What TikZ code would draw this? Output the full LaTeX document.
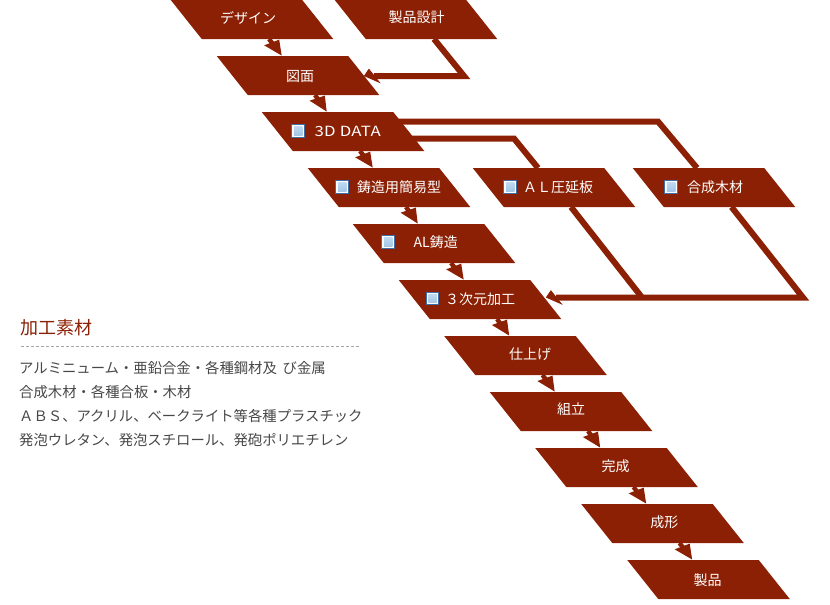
\documentclass[tikz,border=0pt]{standalone}
\usepackage{fontspec}
\setmainfont{Noto Sans CJK JP}
\newfontfamily\widefont[FakeStretch=1.2,LetterSpace=2]{Noto Sans CJK JP}
\usetikzlibrary{arrows.meta,calc,shapes.geometric}
\definecolor{stepred}{HTML}{8C2004}
\definecolor{icoblue}{HTML}{3F6DA6}
\definecolor{icolight}{HTML}{C4DDF2}
\definecolor{icomid}{HTML}{6FA6D6}
\definecolor{icolow}{HTML}{9CC3E4}
\tikzset{
  stepbox/.style={trapezium,trapezium left angle=128.5,trapezium right angle=51.5,
    text width=100.5pt,text height=19.5pt,text depth=19.5pt,inner sep=0pt,outer sep=0pt,fill=stepred},
  steptext/.style={inner sep=0pt,text=white,font=\fontsize{14}{14}\selectfont},
  sidetext/.style={inner sep=0pt,anchor=west,text=black!72,font=\fontsize{14.35}{14.35}\selectfont},
  icobox/.style={rectangle,draw=icoblue,line width=1pt,fill=white,minimum size=12.5pt,inner sep=0pt,
    path picture={\shade[top color=icolight,middle color=icomid,bottom color=icolow]
      ($(path picture bounding box.south west)+(2,-2)$) rectangle ($(path picture bounding box.north east)+(-2,2)$);}},
  smallarr/.style={draw=stepred,line width=4.5pt,-{Triangle[length=17pt,width=14pt,slant=0.3]}},
  bigarr/.style={draw=stepred,line width=6pt,miter limit=10,-{Triangle[length=11pt,width=14pt,slant=-0.8]}},
  bigline/.style={draw=stepred,line width=6pt,miter limit=10}
}
\begin{document}
\begin{tikzpicture}[x=1pt,y=-1pt]
  \useasboundingbox (0,0) rectangle (830,605);

  % 工程
  \node[stepbox] (nDesign) at (252,19.5) {};
  \node[stepbox] (nSeihin) at (416,19.5) {};
  \node[stepbox] (nZumen) at (298,75.5) {};
  \node[stepbox] (nData) at (343,131.5) {};
  \node[stepbox] (nKan) at (389,187.5) {};
  \node[stepbox] (nAtsu) at (554,187.5) {};
  \node[stepbox] (nWood) at (714,187.5) {};
  \node[stepbox] (nChu) at (434,243.5) {};
  \node[stepbox] (nKako) at (480,299.5) {};
  \node[stepbox] (nShiage) at (525.5,355.5) {};
  \node[stepbox] (nKumi) at (571,411.5) {};
  \node[stepbox] (nKansei) at (616.5,467.5) {};
  \node[stepbox] (nSeikei) at (662.5,523.5) {};
  \node[stepbox] (nLast) at (708.5,579.5) {};

  % 折れ線
  \coordinate (kSeihin) at (464,76);
  \coordinate (kWoodUp) at (658,121.5);
  \coordinate (kAtsuUp) at (514,138.5);
  \coordinate (kWoodDn) at (803,297.5);
  \coordinate (kAtsuDn) at (642,297.5);
  \draw[bigarr] ($(nSeihin.south)+(18,0)$) -- (kSeihin) -- ($(nZumen.east)+(0,0.5)$);
  \draw[bigline] ($(nData.east)+(-20,-10)$) -- (kWoodUp) -- ($(nWood.north)+(-17,0)$);
  \draw[bigline] ($(nData.east)+(-20,7)$) -- (kAtsuUp) -- ($(nAtsu.north)+(-16,0)$);
  \draw[bigarr] ($(nWood.south)+(17.5,0)$) -- (kWoodDn) -- ($(nKako.east)+(0,-2)$);
  \draw[bigline] ($(nAtsu.south)+(17,0)$) -- (kAtsuDn);

  % 矢印
  \draw[smallarr] ($(nDesign.south)+(17,0)$) -- ($(nZumen.north)+(-16,0)$);
  \draw[smallarr] ($(nZumen.south)+(17,0)$) -- ($(nData.north)+(-16,0)$);
  \draw[smallarr] ($(nData.south)+(17,0)$) -- ($(nKan.north)+(-16,0)$);
  \draw[smallarr] ($(nKan.south)+(17,0)$) -- ($(nChu.north)+(-16,0)$);
  \draw[smallarr] ($(nChu.south)+(17,0)$) -- ($(nKako.north)+(-16,0)$);
  \draw[smallarr] ($(nKako.south)+(17,0)$) -- ($(nShiage.north)+(-16,0)$);
  \draw[smallarr] ($(nShiage.south)+(17,0)$) -- ($(nKumi.north)+(-16,0)$);
  \draw[smallarr] ($(nKumi.south)+(17,0)$) -- ($(nKansei.north)+(-16,0)$);
  \draw[smallarr] ($(nKansei.south)+(17,0)$) -- ($(nSeikei.north)+(-16,0)$);
  \draw[smallarr] ($(nSeikei.south)+(17,0)$) -- ($(nLast.north)+(-16,0)$);

  % 文字
  \node[steptext] (tDesign) at (248,17.5) {デザイン};
  \node[steptext] (tSeihin) at (416.5,17.5) {製品設計};
  \node[steptext] (tZumen) at (300,76.5) {図面};
  \node[steptext] (tData) at (347.7,131.5) {\widefont 3D DATA};
  \node[steptext] (tKan) at (399,187.5) {鋳造用簡易型};
  \node[steptext] (tAtsu) at (558,187.5) {ＡＬ圧延板};
  \node[steptext] (tWood) at (715,187.5) {合成木材};
  \node[steptext] (tChu) at (435.7,242) {AL鋳造};
  \node[steptext] (tKako) at (480,298.7) {３次元加工};
  \node[steptext] (tShiage) at (530,354) {仕上げ};
  \node[steptext] (tKumi) at (571,409.5) {組立};
  \node[steptext] (tKansei) at (615.7,466) {完成};
  \node[steptext] (tSeikei) at (664.3,522.7) {成形};
  \node[steptext] (tLast) at (707.7,580) {製品};

  % アイコン
  \node[icobox] (iData) at (298,131) {};
  \node[icobox] (iKan) at (342,187) {};
  \node[icobox] (iAtsu) at (510,187) {};
  \node[icobox] (iWood) at (671,187) {};
  \node[icobox] (iChu) at (388,242) {};
  \node[icobox] (iKako) at (432.7,298.7) {};

  % 加工素材
  \node[inner sep=0pt,anchor=west,text=stepred,font=\fontsize{18}{18}\selectfont] (tTitle) at (20,327.5) {加工素材};
  \coordinate (dashL) at (21,346.5);
  \coordinate (dashR) at (360,346.5);
  \draw[black!35,line width=0.7pt,dash pattern=on 3pt off 2pt] (dashL) -- (dashR);
  \node[sidetext] (tLineA) at (19,367.7) {アルミニューム・亜鉛合金・各種鋼材及\hspace{0.4em}び金属};
  \node[sidetext] (tLineB) at (19,392) {合成木材・各種合板・木材};
  \node[sidetext] (tLineC) at (19,415.7) {ＡＢＳ、アクリル、ベークライト等各種プラスチック};
  \node[sidetext] (tLineD) at (19,439.7) {発泡ウレタン、発泡スチロール、発砲ポリエチレン};
\end{tikzpicture}
\end{document}
